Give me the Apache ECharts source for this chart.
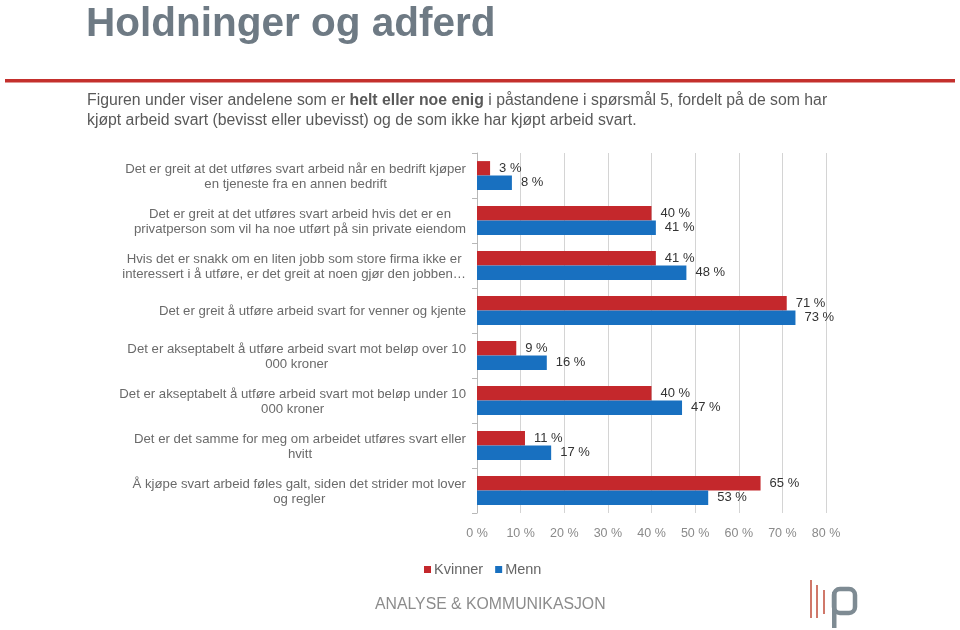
<!DOCTYPE html>
<html>
<head>
<meta charset="utf-8">
<script src="https://cdn.jsdelivr.net/npm/echarts@6/dist/echarts.min.js"></script>
<style>
html,body{margin:0;padding:0;background:#fff;}
#c{width:960px;height:630px;}
</style>
</head>
<body>
<div id="c"></div>
<script>
var categories = [
  "Det er greit at det utføres svart arbeid når en bedrift kjøper\nen tjeneste fra en annen bedrift",
  "Det er greit at det utføres svart arbeid hvis det er en\nprivatperson som vil ha noe utført på sin private eiendom",
  "Hvis det er snakk om en liten jobb som store firma ikke er\ninteressert i å utføre, er det greit at noen gjør den jobben…",
  "Det er greit å utføre arbeid svart for venner og kjente",
  "Det er akseptabelt å utføre arbeid svart mot beløp over 10\n000 kroner",
  "Det er akseptabelt å utføre arbeid svart mot beløp under 10\n000 kroner",
  "Det er det samme for meg om arbeidet utføres svart eller\nhvitt",
  "Å kjøpe svart arbeid føles galt, siden det strider mot lover\nog regler"
];
var kvinner = [3, 40, 41, 71, 9, 40, 11, 65];
var menn = [8, 41, 48, 73, 16, 47, 17, 53];
var seriesNames = ["Kvinner", "Menn"];
var xTicks = [0, 10, 20, 30, 40, 50, 60, 70, 80];

var chart = echarts.init(document.getElementById('c'), null, {renderer: 'canvas'});
var FONT = '"Liberation Sans", Arial, sans-serif';

var option = {
  backgroundColor: '#ffffff',
  animation: false,
  textStyle: {fontFamily: FONT},
  grid: {left: 477, right: 134, top: 153, bottom: 117, containLabel: false},
  legend: {
    data: seriesNames,
    left: 419, top: 557,
    itemWidth: 7, itemHeight: 7, itemGap: 12,
    icon: 'rect',
    textStyle: {fontSize: 14.5, color: '#666', fontFamily: FONT, padding: [0, 0, 0, -2]}
  },
  xAxis: {
    type: 'value', min: xTicks[0], max: xTicks[xTicks.length - 1], interval: 10,
    axisLine: {show: false}, axisTick: {show: false},
    splitLine: {show: true, lineStyle: {color: '#d4d4d4', width: 1}},
    axisLabel: {formatter: function (v) { return v + ' %'; }, color: '#8a8a8a', fontSize: 12.5, margin: 14, fontFamily: FONT}
  },
  yAxis: {
    type: 'category', data: categories, inverse: true,
    axisLine: {show: true, lineStyle: {color: '#b8b8b8'}},
    axisTick: {show: true, length: 5, lineStyle: {color: '#b8b8b8'}},
    axisLabel: {
      margin: 11, color: '#6a6a6a', fontSize: 13.2, fontFamily: FONT, align: 'right', lineHeight: 15,
      padding: [2, 0, 0, 0],
      formatter: function (v) {
        return v.split('\n').map(function (l) { return '{c|' + l + '}'; }).join('\n');
      },
      rich: {c: {align: 'center', color: '#6a6a6a', fontSize: 13.2, fontFamily: FONT, lineHeight: 15}}
    }
  },
  series: [
    {
      name: seriesNames[0], type: 'bar', data: kvinner, barGap: '0%', barCategoryGap: '36%',
      itemStyle: {color: '#C4282C'},
      label: {show: true, position: 'right', distance: 9, formatter: '{c} %', color: '#333', fontSize: 13, fontFamily: FONT}
    },
    {
      name: seriesNames[1], type: 'bar', data: menn, barGap: '0%', barCategoryGap: '36%',
      itemStyle: {color: '#1870C0'},
      label: {show: true, position: 'right', distance: 9, formatter: '{c} %', color: '#333', fontSize: 13, fontFamily: FONT}
    }
  ],
  graphic: [
    {type: 'text', left: 86, top: 4, style: {text: 'Holdninger og adferd', font: 'bold 40.5px ' + FONT, fill: '#6E7A84'}},
    {type: 'rect', shape: {x: 5, y: 79, width: 950, height: 3.5}, style: {fill: '#C4302D'}},
    {type: 'text', left: 87, top: 93, style: {
      rich: {n: {font: '15.8px ' + FONT, fill: '#595959', lineHeight: 20}, b: {font: 'bold 15.8px ' + FONT, fill: '#595959', lineHeight: 20}},
      text: '{n|Figuren under viser andelene som er }{b|helt eller noe enig}{n| i påstandene i spørsmål 5, fordelt på de som har}\n{n|kjøpt arbeid svart (bevisst eller ubevisst) og de som ikke har kjøpt arbeid svart.}'
    }},
    {type: 'text', left: 375, top: 597, style: {text: 'ANALYSE & KOMMUNIKASJON', font: '15.8px ' + FONT, fill: '#8c8c8c'}},
    {type: 'rect', shape: {x: 810, y: 580, width: 2, height: 38}, style: {fill: '#D0786A'}},
    {type: 'rect', shape: {x: 816, y: 585, width: 2, height: 33}, style: {fill: '#D0786A'}},
    {type: 'rect', shape: {x: 823, y: 590, width: 2, height: 24}, style: {fill: '#D0786A'}},
    {type: 'rect', shape: {x: 834, y: 589, width: 21, height: 24, r: 6}, style: {fill: 'none', stroke: '#7E8B93', lineWidth: 4.5}},
    {type: 'rect', shape: {x: 832, y: 592, width: 4.5, height: 36}, style: {fill: '#7E8B93'}}
  ]
};
chart.setOption(option);
</script>
</body>
</html>
